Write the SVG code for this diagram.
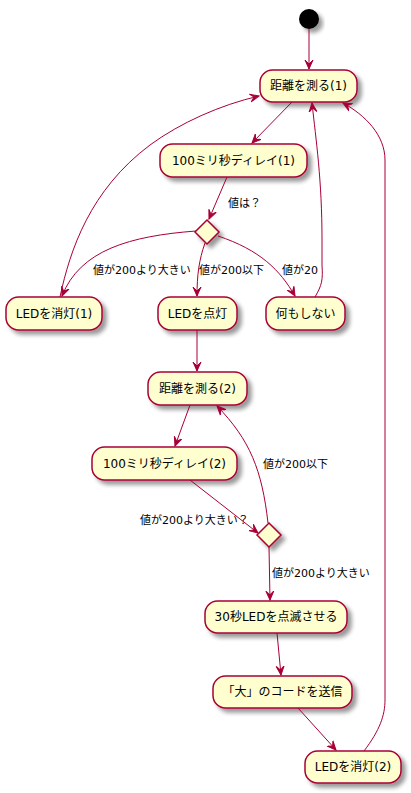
<svg xmlns="http://www.w3.org/2000/svg" width="411" height="793" viewBox="0 0 411 793">
<style>
.n rect{fill:#FEFECE;stroke:#A80036;stroke-width:1.5;filter:url(#sh)}
.n text{font-family:"DejaVu Sans","Noto Sans CJK JP",sans-serif;font-size:12px;fill:#000;text-anchor:middle}
.d{fill:#FEFECE;stroke:#A80036;stroke-width:1.5;filter:url(#sh)}
#edges path{fill:none;stroke:#A80036;stroke-width:1;marker-end:url(#ah)}
.lb{font-family:"DejaVu Sans","Noto Sans CJK JP",sans-serif;font-size:11px;fill:#000}
</style>
<defs>
<filter id="sh" x="-20%" y="-20%" width="150%" height="160%">
<feGaussianBlur in="SourceAlpha" stdDeviation="2"/>
<feOffset dx="4" dy="4" result="b"/>
<feComponentTransfer><feFuncA type="linear" slope="0.4"/></feComponentTransfer>
<feMerge><feMergeNode/><feMergeNode in="SourceGraphic"/></feMerge>
</filter>
<marker id="ah" viewBox="0 0 10 10" refX="9" refY="5" markerWidth="10" markerHeight="10" markerUnits="userSpaceOnUse" orient="auto">
<path d="M0,1 L9,5 L0,9 L4,5 Z" fill="#A80036" stroke="#A80036" stroke-width="1"/>
</marker>
</defs>
<rect width="411" height="793" fill="#FFFFFF"/>
<g id="start"><circle cx="309" cy="19" r="10" fill="#000" filter="url(#sh)"/></g>
<g id="measure1" class="n"><rect x="260" y="70" width="97" height="32" rx="12.5"/><text x="308.5" y="90">距離を測る(1)</text></g>
<g id="delay1" class="n"><rect x="160" y="144" width="147" height="33" rx="12.5"/><text x="233.5" y="165">100ミリ秒ディレイ(1)</text></g>
<g id="dec1"><polygon class="d" points="207,220 219,232 207,244 195,232"/></g>
<g id="ledoff1" class="n"><rect x="6" y="297" width="96" height="33" rx="12.5"/><text x="54" y="318">LEDを消灯(1)</text></g>
<g id="ledon" class="n"><rect x="158" y="297" width="79" height="33" rx="12.5"/><text x="197.5" y="318">LEDを点灯</text></g>
<g id="nothing" class="n"><rect x="266" y="297" width="79" height="33" rx="12.5"/><text x="305.5" y="318">何もしない</text></g>
<g id="measure2" class="n"><rect x="148" y="372" width="99" height="33" rx="12.5"/><text x="197.5" y="393">距離を測る(2)</text></g>
<g id="delay2" class="n"><rect x="92" y="447" width="145" height="33" rx="12.5"/><text x="164.5" y="468">100ミリ秒ディレイ(2)</text></g>
<g id="dec2"><polygon class="d" points="269,523 281,535 269,547 257,535"/></g>
<g id="blink" class="n"><rect x="205" y="601" width="142" height="32" rx="12.5"/><text x="276" y="621">30秒LEDを点滅させる</text></g>
<g id="send" class="n"><rect x="213" y="676" width="139" height="32" rx="12.5"/><text x="282.5" y="696">「大」のコードを送信</text></g>
<g id="ledoff2" class="n"><rect x="305" y="751" width="96" height="32" rx="12.5"/><text x="353" y="771">LEDを消灯(2)</text></g>
<g id="edges">
<path d="M309,29 L309,69"/>
<path d="M292,102 L252,143"/>
<path d="M227,177 L209,219"/>
<path d="M196,231 C130,236 80,250 62,296"/>
<path d="M205,243 C199,260 197,275 197,296"/>
<path d="M218,236 C260,250 280,270 295,296"/>
<path d="M315,297 C322,285 323,280 322,265 L322,240 C322,180 316,140 312,103"/>
<path d="M60,297 C70,250 90,190 150,145 C180,123 220,105 259,96"/>
<path d="M197,330 L197,371"/>
<path d="M190,405 L175,446"/>
<path d="M190,480 L258,533"/>
<path d="M268,523 C262,470 250,440 217,406"/>
<path d="M269,547 L270,600"/>
<path d="M277,633 L281,675"/>
<path d="M298,708 L336,750"/>
<path d="M364,751 C380,730 385,715 385,700 L385,160 C385,135 365,115 343,103"/>
</g>
<g id="labels">
<text class="lb" x="228" y="207">値は？</text>
<text class="lb" x="93" y="274">値が200より大きい</text>
<text class="lb" x="199" y="274">値が200以下</text>
<text class="lb" x="282" y="274">値が20</text>
<text class="lb" x="263" y="468">値が200以下</text>
<text class="lb" x="140" y="524">値が200より大きい？</text>
<text class="lb" x="272" y="577">値が200より大きい</text>
</g>
</svg>
